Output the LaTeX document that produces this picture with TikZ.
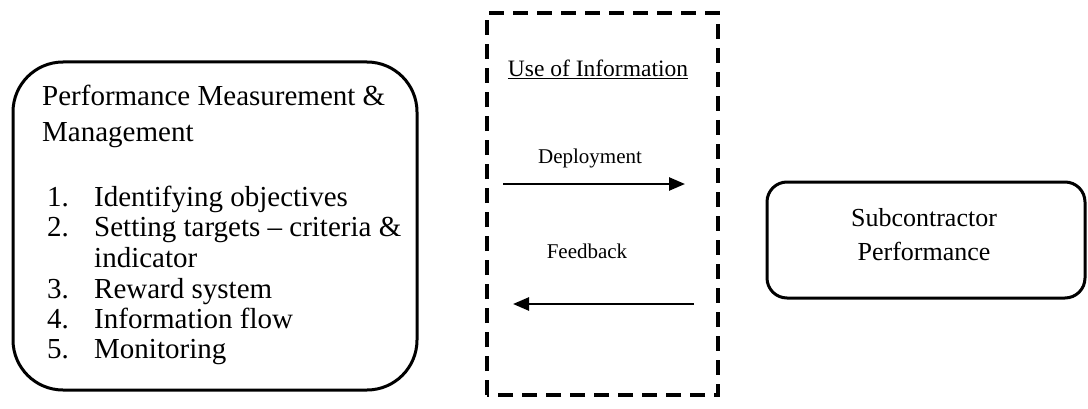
\documentclass[tikz,border=0pt]{standalone}
\usepackage{fontspec}
\setmainfont{Liberation Serif}
\usetikzlibrary{arrows.meta}
\begin{document}
\begin{tikzpicture}[x=1pt,y=1pt,
  roundbox/.style={draw, line width=3pt, rounded corners=#1},
  dashbox/.style={draw, line width=4pt, dash pattern=on 15pt off 9pt},
  flowarrow/.style={line width=2.5pt, -{Triangle[length=16pt,width=13pt]}},
  big/.style={font=\fontsize{29}{35}\selectfont, inner sep=0pt, anchor=base west},
  small/.style={font=\fontsize{21}{25}\selectfont, inner sep=0pt, anchor=base},
  mid/.style={font=\fontsize{26}{34}\selectfont, inner sep=0pt, align=center}]
\useasboundingbox (0,0) rectangle (1088,408);
% left box
\draw[roundbox=50pt] (13,18) rectangle (417,346);
\node[big] (t1) at (42,302) {Performance Measurement \&};
\node[big] (t2) at (42,267) {Management};
\node[big] (n1) at (47,202) {1.};
\node[big] (i1) at (94,202) {Identifying objectives};
\node[big] (n2) at (47,172) {2.};
\node[big] (i2) at (94,172) {Setting targets – criteria \&};
\node[big] (i2b) at (94,141) {indicator};
\node[big] (n3) at (47,110) {3.};
\node[big] (i3) at (94,110) {Reward system};
\node[big] (n4) at (47,80) {4.};
\node[big] (i4) at (94,80) {Information flow};
\node[big] (n5) at (47,50) {5.};
\node[big] (i5) at (94,50) {Monitoring};
% dashed box
\draw[dashbox] (487,13) rectangle (718,395);
\node[small, font=\fontsize{23.5}{28}\selectfont] (use) at (598,331) {\underline{Use of Information}};
\node[small] (dep) at (590,245) {Deployment};
\node[small] (fb) at (587,150) {Feedback};
\coordinate (d1) at (503,224);
\coordinate (d2) at (685,224);
\coordinate (f1) at (694,104);
\coordinate (f2) at (513,104);
\draw[flowarrow] (d1) -- (d2);
\draw[flowarrow] (f1) -- (f2);
% right box
\node[roundbox=20pt, minimum width=318pt, minimum height=116pt] (sub) at (926,168) {};
\node[mid] (subt) at (924,173) {Subcontractor\\Performance};
\end{tikzpicture}
\end{document}
